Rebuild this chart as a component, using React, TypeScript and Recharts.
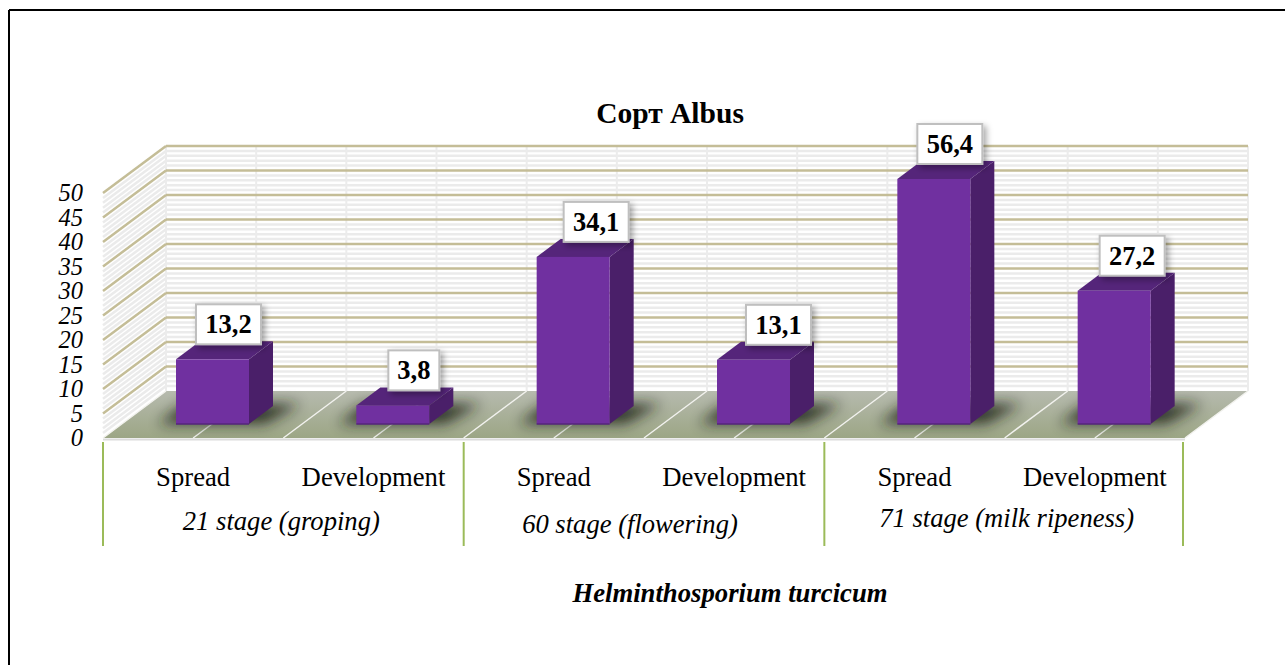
import * as React from "react";
import {
  Bar,
  BarChart,
  LabelList,
  XAxis,
  YAxis,
  usePlotArea,
} from "recharts";

const categories = ["Spread", "Development", "Spread", "Development", "Spread", "Development"];
const stages = ["21 stage (groping)", "21 stage (groping)", "60 stage (flowering)", "60 stage (flowering)", "71 stage (milk ripeness)", "71 stage (milk ripeness)"];
const values = [13.2, 3.8, 34.1, 13.1, 56.4, 27.2];
const yTicks = [0, 5, 10, 15, 20, 25, 30, 35, 40, 45, 50];
const axisMax = 50;

// the value axis stops at 50, so the tallest bar is cut there but keeps its label
const rows = categories.map((category, i) => ({
  category,
  stage: stages[i],
  value: values[i],
  shown: Math.min(values[i], axisMax),
}));

const W = 1285;
const H = 665;
const SERIF = "'Liberation Serif', 'Times New Roman', serif";

// fake 3d: offsets of the front edge and back wall from the plane the bars stand on
const FRONT = { x: -19, y: 14 };
const BACK = { x: 44, y: -33 };
const BAR_DEPTH = { x: 24, y: -18 };

const labelNudge = [16, 21, 23, 25, 16, 18];
const stageNudge = [-2, -14, 2];
const stageDrop = [0, 3, -3];

function Backdrop() {
  const plot = usePlotArea();
  if (!plot) return null;
  const yAt = (v: number) => plot.y + plot.height * (1 - v / axisMax);
  const minor: number[] = [];
  for (let v = 1; v < axisMax; v++) if (v % 5 !== 0) minor.push(v);
  const verticals = Array.from({ length: 13 }, (_, i) => plot.x + (plot.width * i) / 12);
  const left = plot.x;
  const right = plot.x + plot.width;
  const base = yAt(0);

  return (
    <g>
      <defs>
        <linearGradient id="floorFill" x1="0" y1="0" x2="0" y2="1">
          <stop offset="0" stopColor="#b6baae" />
          <stop offset="1" stopColor="#9ca685" />
        </linearGradient>
        <filter id="floorShadow" x="-30%" y="-80%" width="160%" height="260%">
          <feGaussianBlur stdDeviation="7" />
        </filter>
        <filter id="boxShadow" x="-30%" y="-30%" width="170%" height="170%">
          <feDropShadow dx="3" dy="3" stdDeviation="3" floodColor="#000" floodOpacity="0.35" />
        </filter>
      </defs>

      {minor.map((v) => (
        <g key={v} stroke="#ebebeb" strokeWidth={2.5}>
          <line x1={left + BACK.x} x2={right + BACK.x} y1={yAt(v) + BACK.y} y2={yAt(v) + BACK.y} />
          <line x1={left + FRONT.x} x2={left + BACK.x} y1={yAt(v) + FRONT.y} y2={yAt(v) + BACK.y} />
        </g>
      ))}
      {verticals.map((x) => (
        <line key={x} x1={x + BACK.x} x2={x + BACK.x} y1={yAt(axisMax) + BACK.y} y2={base + BACK.y} stroke="#ececec" strokeWidth={2} />
      ))}
      {yTicks.slice(1).map((v) => (
        <g key={v} stroke="#c4bd97" strokeWidth={2.5}>
          <line x1={left + BACK.x} x2={right + BACK.x} y1={yAt(v) + BACK.y} y2={yAt(v) + BACK.y} />
          <line x1={left + FRONT.x} x2={left + BACK.x} y1={yAt(v) + FRONT.y} y2={yAt(v) + BACK.y} />
        </g>
      ))}

      <polygon
        points={`${left + FRONT.x},${base + FRONT.y} ${right + FRONT.x},${base + FRONT.y} ${right + BACK.x},${base + BACK.y} ${left + BACK.x},${base + BACK.y}`}
        fill="url(#floorFill)"
      />
      <line x1={left + FRONT.x} x2={right + FRONT.x} y1={base + FRONT.y + 1.5} y2={base + FRONT.y + 1.5} stroke="#dcdcdc" strokeWidth={2} />
      {verticals.map((x) => (
        <line key={x} x1={x + FRONT.x} x2={x + BACK.x} y1={base + FRONT.y} y2={base + BACK.y} stroke="#f2f2ee" strokeWidth={1.5} />
      ))}
    </g>
  );
}

function Bar3D(props: any) {
  const { x, y, width, height } = props;
  const right = x + width;
  const bottom = y + height;
  const d = BAR_DEPTH;
  return (
    <g>
      <polygon
        points={`${x - 18},${bottom} ${right + 16},${bottom} ${right + 52},${bottom - 20} ${x + 8},${bottom - 20}`}
        fill="#1e2219"
        opacity={0.85}
        filter="url(#floorShadow)"
      />
      <polygon points={`${right},${y} ${right + d.x},${y + d.y} ${right + d.x},${bottom + d.y} ${right},${bottom}`} fill="#4a1f69" />
      <polygon points={`${x},${y} ${x + d.x},${y + d.y} ${right + d.x},${y + d.y} ${right},${y}`} fill="#55257a" />
      <rect x={x} y={y} width={width} height={height} fill="#7030a0" />
      <line x1={x} x2={right} y1={bottom} y2={bottom} stroke="#56257c" strokeWidth={1.5} />
    </g>
  );
}

function ValueBox(props: any) {
  const { x, y, width, value, index } = props;
  const text = String(value).replace(".", ",");
  const boxW = text.length > 3 ? 65 : 51;
  const boxH = 40;
  const cx = x + width / 2 + labelNudge[index];
  const bottom = y - 15;
  return (
    <g>
      <rect
        x={cx - boxW / 2}
        y={bottom - boxH}
        width={boxW}
        height={boxH}
        fill="#fff"
        stroke="#bfbfbf"
        strokeWidth={2}
        filter="url(#boxShadow)"
      />
      <text x={cx} y={bottom - 11} textAnchor="middle" fontFamily={SERIF} fontWeight="bold" fontSize={26.5} fill="#000">
        {text}
      </text>
    </g>
  );
}

function ValueTick(props: any) {
  const { y, payload } = props;
  return (
    <text x={83} y={y + FRONT.y + 8} textAnchor="end" fontFamily={SERIF} fontStyle="italic" fontSize={24.5} fill="#000">
      {payload.value}
    </text>
  );
}

function CategoryTick(props: any) {
  const { x, y, payload } = props;
  return (
    <text x={x + FRONT.x} y={y + 54} textAnchor="middle" fontFamily={SERIF} fontSize={26.7} fill="#000">
      {payload.value}
    </text>
  );
}

function StageTick(props: any) {
  const { x, y, payload, index } = props;
  const band = 180.3;
  const divider = (dx: number, key: string) => (
    <line key={key} x1={x + FRONT.x + dx} x2={x + FRONT.x + dx} y1={y - 44} y2={y + 60} stroke="#9bbb59" strokeWidth={2} />
  );
  const group = Math.floor(index / 2);
  return (
    <g>
      {index % 2 === 0 && divider(-band / 2, "a")}
      {index === 5 && divider(band / 2 - 2, "b")}
      {index % 2 === 0 && (
        <text
          x={x + FRONT.x + band / 2 + stageNudge[group]}
          y={y + 44 + stageDrop[group]}
          textAnchor="middle"
          fontFamily={SERIF}
          fontStyle="italic"
          fontSize={26.6}
          fill="#000"
        >
          {payload.value}
        </text>
      )}
    </g>
  );
}

export default function App() {
  return (
    <div style={{ position: "fixed", left: 0, top: 0, width: W, height: H, background: "#fff", overflow: "hidden" }}>
      <BarChart
        width={W}
        height={H}
        data={rows}
        barSize={73}
        margin={{ top: 179, right: 81, bottom: 131, left: 62 }}
      >
        <Backdrop />
        <line x1={9} x2={W} y1={10} y2={10} stroke="#000" strokeWidth={2} />
        <line x1={9} x2={9} y1={10} y2={H} stroke="#000" strokeWidth={2} />
        <text x={670} y={123} textAnchor="middle" fontFamily={SERIF} fontWeight="bold" fontSize={29.5} fill="#000">
          Сорт Albus
        </text>
        <text x={730} y={602} textAnchor="middle" fontFamily={SERIF} fontWeight="bold" fontStyle="italic" fontSize={26.7} fill="#000">
          Helminthosporium turcicum
        </text>
        <XAxis dataKey="category" height={54} interval={0} axisLine={false} tickLine={false} tick={<CategoryTick />} />
        <XAxis xAxisId="stage" dataKey="stage" height={56} interval={0} axisLine={false} tickLine={false} tick={<StageTick />} />
        <YAxis width={60} domain={[0, axisMax]} ticks={yTicks} interval={0} axisLine={false} tickLine={false} tick={<ValueTick />} />
        <Bar dataKey="shown" shape={<Bar3D />} isAnimationActive={false}>
          <LabelList dataKey="value" content={<ValueBox />} />
        </Bar>
      </BarChart>
    </div>
  );
}
